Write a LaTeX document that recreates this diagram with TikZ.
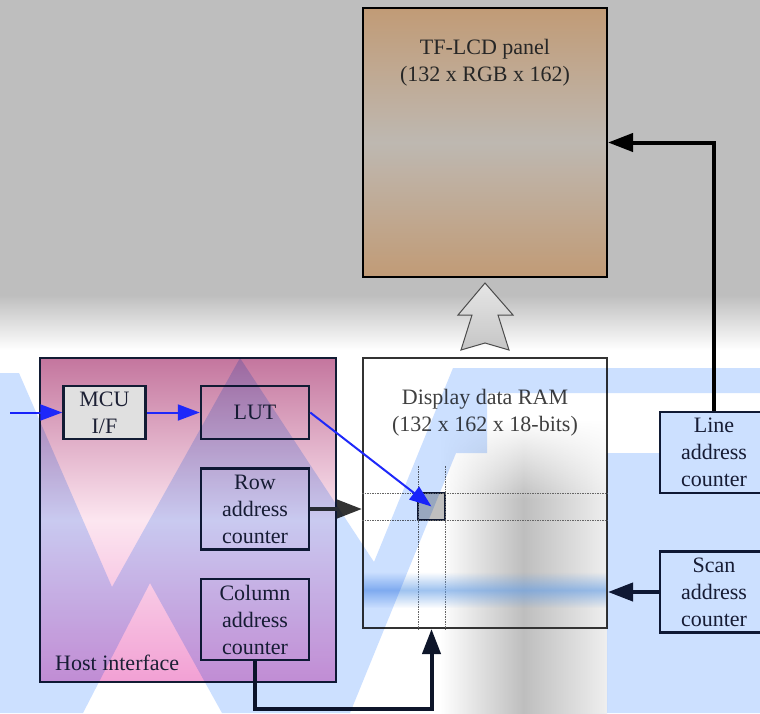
\documentclass[tikz,border=0pt]{standalone}
\usepackage{fontspec}
\setmainfont{Liberation Serif}
\usepackage{xcolor}
\usetikzlibrary{arrows.meta,positioning,calc,fadings}

\definecolor{wmblue}{RGB}{204,224,255}
\definecolor{bggray}{RGB}{190,190,190}
\definecolor{navy}{RGB}{18,28,52}
\definecolor{ink}{RGB}{28,32,52}
\definecolor{wireblue}{RGB}{30,40,250}
\definecolor{lcdtan}{RGB}{193,155,118}
\definecolor{lcdgray}{RGB}{190,184,177}
\definecolor{hosttop}{RGB}{196,118,158}
\definecolor{hostmid}{RGB}{252,230,240}
\definecolor{hostbot}{RGB}{242,160,212}
\definecolor{glowblue}{RGB}{95,155,230}

\tikzfading[name=glowfade, top color=transparent!100, bottom color=transparent!100, middle color=transparent!40]
\tikzfading[name=risefade, top color=transparent!100, bottom color=transparent!0]

\begin{document}
\begin{tikzpicture}[
    x=1pt, y=-1pt,
    txt/.style={font=\fontsize{22}{27}\selectfont, text=ink, align=center, inner sep=0pt},
    unit/.style={rectangle, draw=navy, line width=2.5pt, minimum width=108pt, minimum height=#1, txt},
    unit/.default=81pt,
    hostbox/.style={rectangle, draw=navy, line width=2.5pt, minimum width=296pt, minimum height=324pt,
        top color=hosttop, bottom color=hostbot, middle color=hostmid},
    panel/.style={rectangle, draw=black, line width=2pt, minimum width=244pt, minimum height=269pt,
        top color=lcdtan, bottom color=lcdtan, middle color=lcdgray},
    ramcell/.style={rectangle, draw=navy, line width=2pt, outer sep=0pt, minimum size=27pt, fill=gray!50},
    grid/.style={draw=black!60, line width=0.6pt, dash pattern=on 1.5pt off 1pt},
    wire/.style={draw=wireblue, line width=2pt, -{Triangle[length=22pt,width=16pt]}},
    bus/.style={line width=4pt, -{Triangle[length=25pt,width=18pt]}}
]
    \useasboundingbox (0,0) rectangle (760,713);

    % backdrop
    \fill[white] (0,0) rectangle (760,713);
    \fill[bggray] (0,0) rectangle (760,295);
    \shade[top color=bggray, bottom color=white] (0,295) rectangle (760,350);
    \shade[left color=white, right color=white!75!bggray, middle color=bggray, path fading=risefade] (440,420) rectangle (607,500);
    \shade[left color=white, right color=white!75!bggray, middle color=bggray] (440,500) rectangle (607,713);

    % Top: the panel and the RAM
    \node[panel] (lcd) at (485,142.5) {};
    \node[txt, text=black!85, anchor=north] (lcdtext) at ($(lcd.north)+(0,32)$) {TF-LCD panel\\(132 x RGB x 162)};
    \draw[draw=black!70, line width=1pt, top color=gray!20, bottom color=gray!45]
        (485,283) -- (513,315) -- (498,315) -- (509,350) -- (485,343) -- (461,350) -- (472,315) -- (458,315) -- cycle;

    \node[rectangle, draw=black!80, line width=2pt, minimum width=244pt, minimum height=270pt] (ram) at (485,493) {};
    \node[txt, text=black!75, anchor=north] (ramtext) at ($(ram.north)+(0,32)$) {Display data RAM\\(132 x 162 x 18-bits)};

    % Host side
    \node[hostbox] (host) at (188,520) {};
    \node[txt, anchor=base west] (hostlabel) at (55,670) {Host interface};
    \node[unit=53pt] (lut) at (255,412.5) {LUT};
    \node[unit=53pt, minimum width=82pt, fill=black!12, left=53pt of lut] (mcu) {MCU\\I/F};
    \node[unit, below=27pt of lut] (rowc) {Row\\address\\counter};
    \node[unit, below=27pt of rowc] (colc) {Column\\address\\counter};

    % Display side counters
    \node[unit] (linec) at (714,452.5) {Line\\address\\counter};
    \node[unit, below=56pt of linec] (scanc) {Scan\\address\\counter};

    % RAM grid, addressed cell and scan line
    \node[ramcell] (cell) at (431.5,506.5) {};
    \foreach \yy in {north, south}
        \draw[grid] (ram.west |- cell.\yy) -- (ram.east |- cell.\yy);
    \foreach \xx in {west, east}
        \draw[grid] ($(cell.north \xx)+(0,-27)$) -- (ram.south -| cell.\xx);
    \fill[glowblue, path fading=glowfade] (364,572) rectangle (606,608);

    % Connectors
    \coordinate (din) at (10,412.5);
    \coordinate (colturn) at ($(cell.center |- ram.south)+(0,80)$);
    \draw[wire] (din) -- (mcu.west);
    \draw[wire] (mcu) -- (lut);
    \draw[wire] (lut.east) -- (cell.center);
    \draw[bus, draw=black!80] (rowc.east) -- (rowc.east -| ram.west);
    \draw[bus, draw=navy!80!black] (colc.south) |- (colturn) -- (cell.center |- ram.south);
    \draw[bus, draw=navy] (scanc.west) -- (scanc.west -| ram.east);
    \draw[bus, draw=black] (linec.north) |- (lcd.east);

    % watermark laid over everything
    \begin{scope}[blend mode=multiply]
        \fill[wmblue] (0,373) -- (19,373) -- (112,587) -- (240,358) -- (374,562) -- (453,368) -- (760,368)
            -- (760,393) -- (487,393) -- (487,453) -- (456,453) -- (350,713) -- (222,713) -- (150,583)
            -- (83,713) -- (0,713) -- cycle;
        \fill[wmblue] (607,453) -- (660,453) -- (660,412) -- (760,412) -- (760,713) -- (607,713) -- cycle;
    \end{scope}
\end{tikzpicture}
\end{document}
